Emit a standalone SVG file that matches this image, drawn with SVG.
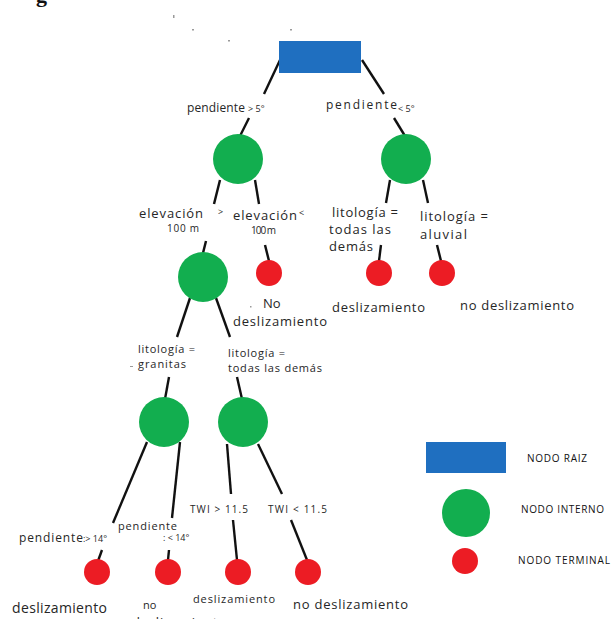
<svg xmlns="http://www.w3.org/2000/svg" width="611" height="619" viewBox="0 0 611 619">
  <style>
    .root { fill: #1f6fc0; }
    .inner { fill: #12ae4f; }
    .leaf { fill: #ec1c24; }
    .edge { stroke: #111; stroke-width: 2.4; stroke-linecap: butt; fill: none; }
    .lbl { font-family: "Open Sans", "Noto Sans", sans-serif; fill: #262626; }
    .l14 { font-size: 14px; }
    .l13 { font-size: 13px; }
    .l12 { font-size: 12px; }
    .l11 { font-size: 11px; }
    .l10 { font-size: 10px; }
    .sm { font-size: 9px; }
    .leg { font-family: "Open Sans", "Noto Sans", sans-serif; font-size: 10px; fill: #111; }
    .speck { fill: #9a9a9a; }
  </style>

  <!-- heading fragment at the top edge -->
  <text x="36" y="2" font-family="Liberation Serif, serif" font-weight="bold" font-size="22" fill="#111">g</text>

  <!-- stray specks -->
  <rect class="speck" x="173" y="15" width="1.5" height="3"/>
  <rect class="speck" x="192" y="29" width="2" height="1.5"/>
  <rect class="speck" x="228" y="40" width="2" height="1.5"/>
  <rect class="speck" x="290" y="29" width="2" height="1.5"/>

  <!-- connectors -->
  <g id="connectors">
    <line class="edge" x1="280" y1="60" x2="264" y2="94"/>
    <line class="edge" x1="249" y1="118" x2="240" y2="136"/>
    <line class="edge" x1="362" y1="60" x2="384" y2="94"/>
    <line class="edge" x1="394" y1="118" x2="405" y2="136"/>

    <line class="edge" x1="220" y1="180" x2="214" y2="204"/>
    <line class="edge" x1="255" y1="180" x2="259" y2="204"/>
    <line class="edge" x1="206" y1="241" x2="203" y2="253"/>
    <line class="edge" x1="265" y1="245" x2="269" y2="261"/>

    <line class="edge" x1="390" y1="180" x2="386" y2="203"/>
    <line class="edge" x1="423" y1="180" x2="428" y2="203"/>
    <line class="edge" x1="381" y1="245" x2="379" y2="261"/>
    <line class="edge" x1="437" y1="245" x2="441" y2="261"/>

    <line class="edge" x1="190" y1="298" x2="177" y2="337"/>
    <line class="edge" x1="216" y1="298" x2="230" y2="337"/>
    <line class="edge" x1="169" y1="377" x2="165" y2="399"/>
    <line class="edge" x1="237" y1="377" x2="242" y2="399"/>

    <line class="edge" x1="147" y1="442" x2="113" y2="523"/>
    <line class="edge" x1="180" y1="442" x2="172" y2="518"/>
    <line class="edge" x1="102" y1="550" x2="98" y2="561"/>
    <line class="edge" x1="169" y1="550" x2="168" y2="560"/>

    <line class="edge" x1="227" y1="444" x2="231" y2="494"/>
    <line class="edge" x1="258" y1="444" x2="282" y2="494"/>
    <line class="edge" x1="233" y1="520" x2="237" y2="560"/>
    <line class="edge" x1="291" y1="520" x2="307" y2="560"/>
  </g>

  <!-- root -->
  <g id="root">
    <rect class="root" x="279" y="41" width="82" height="32"/>
  </g>

  <!-- level 1 -->
  <g id="n-slope-high">
    <circle class="inner" cx="238" cy="159" r="25"/>
  </g>
  <g id="n-slope-low">
    <circle class="inner" cx="406" cy="159" r="25"/>
  </g>

  <!-- level 2 -->
  <g id="n-elev-high">
    <circle class="inner" cx="203" cy="277" r="25"/>
  </g>
  <g id="t-elev-low">
    <circle class="leaf" cx="269" cy="273" r="13"/>
  </g>
  <g id="t-lith-other">
    <circle class="leaf" cx="379" cy="273" r="13"/>
  </g>
  <g id="t-lith-alluvial">
    <circle class="leaf" cx="442" cy="273" r="13"/>
  </g>

  <!-- level 3 -->
  <g id="n-granite">
    <circle class="inner" cx="164" cy="422" r="25"/>
  </g>
  <g id="n-lith-rest">
    <circle class="inner" cx="243" cy="422" r="25"/>
  </g>

  <!-- level 4 -->
  <g id="t-slope14-high">
    <circle class="leaf" cx="97" cy="572" r="13"/>
  </g>
  <g id="t-slope14-low">
    <circle class="leaf" cx="168" cy="572" r="13"/>
  </g>
  <g id="t-twi-high">
    <circle class="leaf" cx="238" cy="572" r="13"/>
  </g>
  <g id="t-twi-low">
    <circle class="leaf" cx="308" cy="572" r="13"/>
  </g>

  <!-- split labels -->
  <g id="labels">
    <text class="lbl l12" x="187" y="112" textLength="58">pendiente</text>
    <text class="lbl sm" x="248" y="112">&gt; 5°</text>
    <text class="lbl l12" x="326" y="109" textLength="71">pendiente</text>
    <text class="lbl sm" x="398" y="112">&lt; 5°</text>

    <text class="lbl l13" x="139" y="218" textLength="64">elevación</text>
    <text class="lbl l10" x="167" y="232" textLength="32">100 m</text>
    <text class="lbl sm" x="218" y="215">&gt;</text>
    <text class="lbl l13" x="233" y="220" textLength="64">elevación</text>
    <text class="lbl sm" x="299" y="216">&lt;</text>
    <text class="lbl l10" x="251" y="234" textLength="25">100 m</text>

    <text class="lbl l13" x="332" y="217" textLength="66">litología =</text>
    <text class="lbl l13" x="329" y="234" textLength="62">todas las</text>
    <text class="lbl l13" x="329" y="251" textLength="44">demás</text>
    <text class="lbl l13" x="420" y="221" textLength="68">litología =</text>
    <text class="lbl l13" x="420" y="239" textLength="47">aluvial</text>

    <text class="lbl l11" x="138" y="353" textLength="57">litología =</text>
    <text class="lbl l11" x="138" y="368" textLength="48">granitas</text>
    <rect class="speck" x="130" y="366" width="3" height="1"/>
    <text class="lbl l11" x="228" y="357" textLength="57">litología =</text>
    <text class="lbl l11" x="228" y="372" textLength="94">todas las demás</text>

    <text class="lbl l12" x="19" y="542" textLength="64">pendiente</text>
    <text class="lbl sm" x="83" y="542">:&gt; 14°</text>
    <text class="lbl l11" x="118" y="530" textLength="59">pendiente</text>
    <text class="lbl sm" x="163" y="541">: &lt; 14°</text>

    <text class="lbl l10" x="190" y="513" textLength="58">TWI &gt; 11.5</text>
    <text class="lbl l10" x="268" y="513" textLength="59">TWI &lt; 11.5</text>
  </g>

  <!-- leaf outcomes -->
  <g id="outcomes">
    <text class="lbl l13" x="263" y="308">No</text>
    <rect class="speck" x="250" y="306" width="1.5" height="1.5"/>
    <text class="lbl l13" x="233" y="326" textLength="94">deslizamiento</text>
    <text class="lbl l13" x="332" y="312" textLength="93">deslizamiento</text>
    <text class="lbl l13" x="460" y="310" textLength="114">no deslizamiento</text>

    <text class="lbl l14" x="12" y="613" textLength="95">deslizamiento</text>
    <text class="lbl l11" x="143" y="609">no</text>
    <text class="lbl l13" x="132" y="627" textLength="94">deslizamiento</text>
    <text class="lbl l11" x="193" y="603" textLength="82">deslizamiento</text>
    <text class="lbl l13" x="293" y="609" textLength="115">no deslizamiento</text>
  </g>

  <!-- key -->
  <g id="legend">
    <g id="legend-root">
      <rect class="root" x="426" y="442" width="80" height="31"/>
      <text class="leg" x="527" y="462" textLength="60">NODO RAIZ</text>
    </g>
    <g id="legend-inner">
      <circle class="inner" cx="466" cy="513" r="24"/>
      <text class="leg" x="521" y="513" textLength="83">NODO INTERNO</text>
    </g>
    <g id="legend-leaf">
      <circle class="leaf" cx="465" cy="561" r="13"/>
      <text class="leg" x="518" y="564" textLength="92">NODO TERMINAL</text>
    </g>
  </g>
</svg>
